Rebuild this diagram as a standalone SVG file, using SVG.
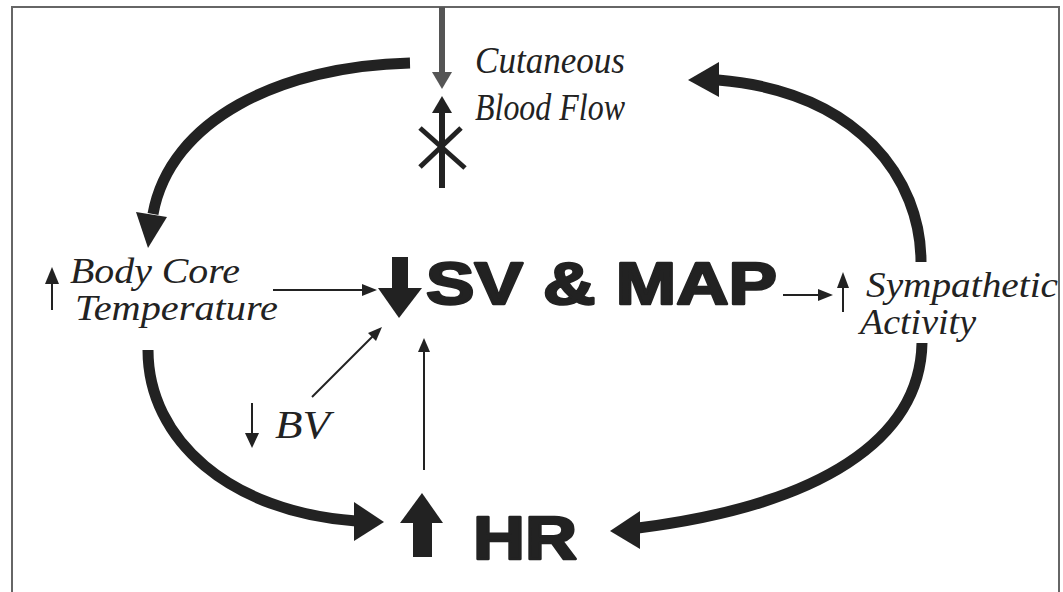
<svg xmlns="http://www.w3.org/2000/svg" width="1063" height="592" viewBox="0 0 1063 592">
<style>
.lbl{font-family:"Liberation Serif","Times New Roman",serif;font-style:italic;fill:#222;}
.big{font-family:"Liberation Sans",Arial,sans-serif;font-weight:bold;fill:#222;stroke:#222;stroke-width:2.5;stroke-linejoin:round;}
.curve{fill:none;stroke:#222;stroke-width:11;stroke-linecap:butt;}
.thin{fill:none;stroke:#222;stroke-width:2;}
.head{fill:#222;}
</style>
<rect x="0" y="0" width="1063" height="592" fill="#fff"/>
<rect x="12" y="7" width="1047" height="600" fill="none" stroke="#666" stroke-width="2"/>

<g id="node-cutaneous">
  <text class="lbl" x="475" y="73" font-size="37" textLength="150" lengthAdjust="spacingAndGlyphs">Cutaneous</text>
  <text class="lbl" x="475" y="120" font-size="37" textLength="150" lengthAdjust="spacingAndGlyphs">Blood Flow</text>
  <line x1="442" y1="110" x2="442" y2="188" stroke="#222" stroke-width="6"/>
  <polygon class="head" points="432,113 442,96 452,113"/>
  <line x1="420" y1="128" x2="465" y2="168" stroke="#222" stroke-width="5"/>
  <line x1="461" y1="128" x2="420" y2="167" stroke="#222" stroke-width="5"/>
</g>

<g id="node-bodycore">
  <line x1="52" y1="280" x2="52" y2="310" class="thin"/>
  <polygon class="head" points="45,284 52,267 59,284"/>
  <text class="lbl" x="70" y="283" font-size="36" textLength="170" lengthAdjust="spacingAndGlyphs">Body Core</text>
  <text class="lbl" x="75" y="320" font-size="36" textLength="203" lengthAdjust="spacingAndGlyphs">Temperature</text>
</g>

<g id="node-svmap">
  <rect x="392" y="257" width="16" height="33" fill="#222"/>
  <polygon class="head" points="378,288 422,288 399,318"/>
  <text class="big" x="426" y="304" font-size="60" textLength="351" lengthAdjust="spacingAndGlyphs">SV &amp; MAP</text>
</g>

<g id="node-sympathetic">
  <line x1="843" y1="284" x2="843" y2="312" class="thin"/>
  <polygon class="head" points="837,288 843,272 849,288"/>
  <text class="lbl" x="866" y="297" font-size="35" textLength="192" lengthAdjust="spacingAndGlyphs">Sympathetic</text>
  <text class="lbl" x="860" y="334" font-size="35" textLength="116" lengthAdjust="spacingAndGlyphs">Activity</text>
</g>

<g id="node-bv">
  <line x1="252" y1="403" x2="252" y2="436" class="thin"/>
  <polygon class="head" points="245,433 259,433 252,448"/>
  <text class="lbl" x="275" y="438" font-size="41" textLength="55" lengthAdjust="spacingAndGlyphs">BV</text>
</g>

<g id="node-hr">
  <rect x="413" y="520" width="19" height="37" fill="#222"/>
  <polygon class="head" points="400,523 422,493 443,523"/>
  <text class="big" x="473" y="559" font-size="61" textLength="104" lengthAdjust="spacingAndGlyphs">HR</text>
</g>

<g id="connectors">
  <line x1="442" y1="7" x2="442" y2="75" stroke="#555" stroke-width="6"/>
  <polygon points="432,72 452,72 442,89" fill="#555"/>

  <path class="curve" d="M410,63 C280,66 170,120 153,214"/>
  <polygon class="head" points="136,212 148,248 167,217"/>

  <path class="curve" d="M921,262 C921,180 860,92 718,80"/>
  <polygon class="head" points="719,62 688,80 719,97"/>

  <path class="curve" d="M148,350 C148,440 230,512 356,521"/>
  <polygon class="head" points="354,502 384,522 354,541"/>

  <path class="curve" d="M922,343 C920,440 820,505 638,528"/>
  <polygon class="head" points="640,511 610,531 640,549"/>

  <line x1="273" y1="290" x2="364" y2="290" class="thin"/>
  <polygon class="head" points="362,284 377,290 362,296"/>

  <line x1="312" y1="397" x2="374" y2="335" class="thin"/>
  <polygon class="head" points="376,341 382,327 368,333"/>

  <line x1="424" y1="470" x2="424" y2="348" class="thin"/>
  <polygon class="head" points="418,352 424,338 430,352"/>

  <line x1="783" y1="295" x2="820" y2="295" class="thin"/>
  <polygon class="head" points="818,289 833,295 818,301"/>
</g>
</svg>
